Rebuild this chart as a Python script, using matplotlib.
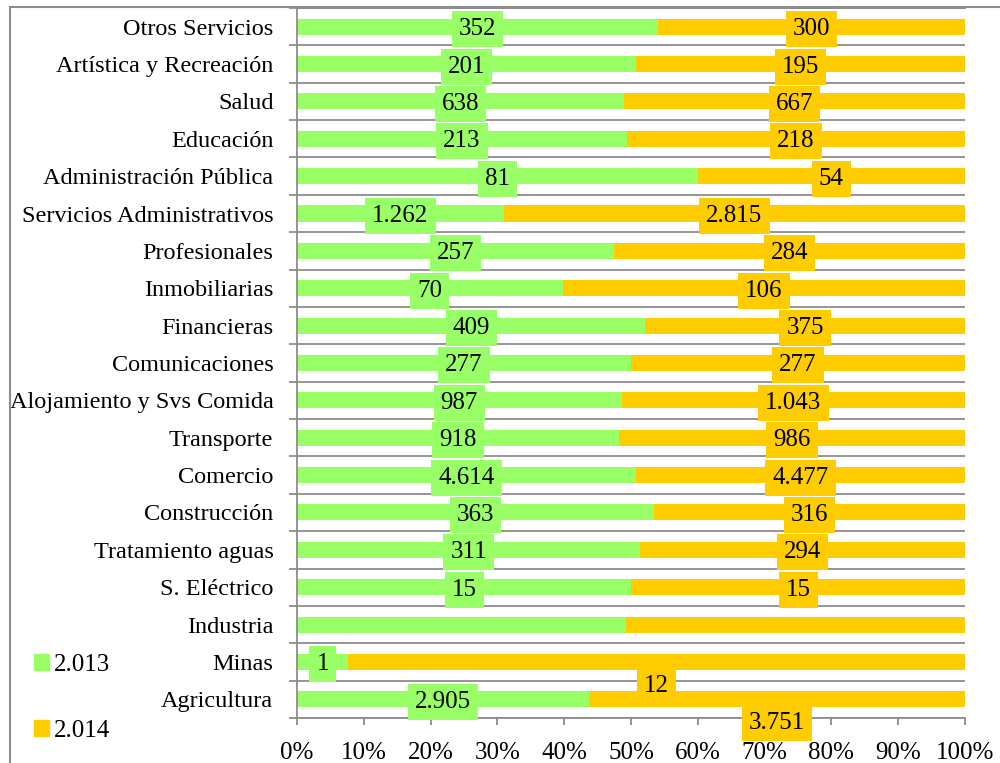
import matplotlib
matplotlib.use("Agg")
import matplotlib.pyplot as plt
from matplotlib.patches import Patch, Rectangle
import numpy as np

plt.rcParams["font.family"] = ["Liberation Serif", "DejaVu Serif"]

# categories from bottom to top
sectores = ["Agricultura", "Minas", "Industria", "S. Eléctrico", "Tratamiento aguas",
            "Construcción", "Comercio", "Transporte", "Alojamiento y Svs Comida",
            "Comunicaciones", "Financieras", "Inmobiliarias", "Profesionales",
            "Servicios Administrativos", "Administración Pública", "Educación",
            "Salud", "Artística y Recreación", "Otros Servicios"]
v2013 = [2905, 1, 32, 15, 311, 363, 4614, 918, 987, 277, 409, 70, 257,
         1262, 81, 213, 638, 201, 352]
v2014 = [3751, 12, 33, 15, 294, 316, 4477, 986, 1043, 277, 375, 106, 284,
         2815, 54, 218, 667, 195, 300]
sin_etiqueta = ["Industria"]  # no value labels shown in the original

verde = "#99FF66"
amarillo = "#FFCC00"
gris = "#8C8C8C"
fs = 18

a = np.array(v2013, dtype=float)
b = np.array(v2014, dtype=float)
tot = a + b
p13 = a / tot
p14 = b / tot

def fmt(v):
    return f"{v:,}".replace(",", ".")

fig = plt.figure(figsize=(10, 7.63), dpi=100)
ax = fig.add_axes([0.297, 0.059, 0.668, 0.9305])

y = np.arange(len(sectores))
ax.barh(y, p13, height=0.43, color=verde, label="2.013")
ax.barh(y, p14, left=p13, height=0.43, color=amarillo, label="2.014")

# Excel pushed a couple of labels below their bars
nudge = {("Minas", 1): -0.57, ("Agricultura", 1): -0.58}

for i, s in enumerate(sectores):
    if s in sin_etiqueta:
        continue
    for k, (x, v, c) in enumerate([(p13[i] / 2, v2013[i], verde),
                                   (p13[i] + p14[i] / 2, v2014[i], amarillo)]):
        yy = i + nudge.get((s, k), 0)
        ax.text(x, yy, fmt(v), ha="center", va="center_baseline", fontsize=fs,
                zorder=5, clip_on=False,
                bbox=dict(boxstyle="square,pad=0.28", fc=c, ec="none"))

ax.set_ylim(-0.5, len(sectores) - 0.5)
ax.set_xlim(0, 1)
ax.set_yticks(y)
ax.set_yticklabels(sectores, fontsize=17.5)
ax.set_yticks(np.arange(-0.5, len(sectores), 1), minor=True)
ax.tick_params(axis="y", which="major", length=0, pad=17)
ax.tick_params(axis="y", which="minor", length=6, width=1.3, color=gris)
ax.grid(axis="y", which="minor", color=gris, lw=1.3)
ax.set_axisbelow(True)

ax.set_xticks(np.arange(0, 1.01, 0.1))
ax.set_xticklabels([f"{int(round(t * 100))}%" for t in np.arange(0, 1.01, 0.1)],
                   fontsize=fs)
ax.tick_params(axis="x", length=5, width=1.3, color=gris, pad=12)

for sp in ["right"]:
    ax.spines[sp].set_visible(False)
for sp in ["left", "bottom", "top"]:
    ax.spines[sp].set_color(gris)
    ax.spines[sp].set_linewidth(1.3)

handles = [Patch(color=verde, label="2.013"), Patch(color=amarillo, label="2.014")]
fig.legend(handles=handles, loc="upper left", bbox_to_anchor=(0.034, 0.143),
           frameon=False, fontsize=fs, handlelength=0.58, handleheight=0.58,
           handletextpad=0.2, labelspacing=1.75, borderpad=0, borderaxespad=0)

# outer chart frame
fig.add_artist(Rectangle((0.010, -0.1), 1.2, 1.0908, transform=fig.transFigure,
                         fill=False, ec=gris, lw=1.5))

fig.savefig("out.png", dpi=100)
